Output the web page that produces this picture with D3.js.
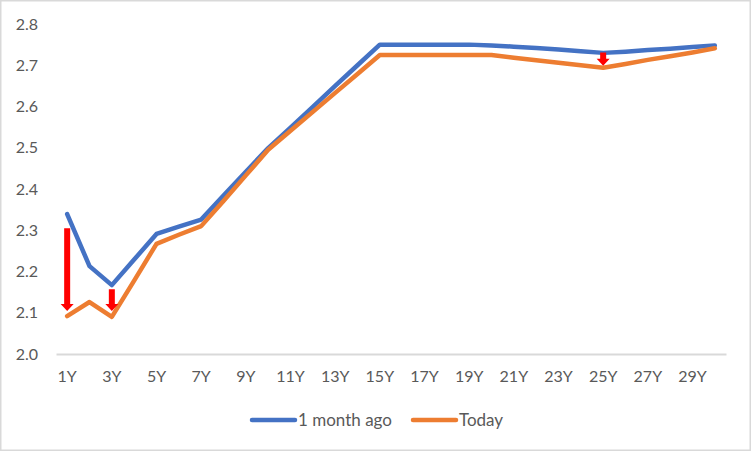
<!DOCTYPE html>
<html>
<head>
<meta charset="utf-8">
<script src="https://cdn.jsdelivr.net/npm/d3@7"></script>
<style>
  html, body { margin: 0; padding: 0; background: #fff; }
  svg { display: block; }
  text { font-family: Lato, "Open Sans", sans-serif; fill: #595959; }
</style>
</head>
<body>
<svg id="chart" width="752" height="452"></svg>
<script>
// ---- data ----
const categories = ["1Y","2Y","3Y","4Y","5Y","6Y","7Y","8Y","9Y","10Y",
  "11Y","12Y","13Y","14Y","15Y","16Y","17Y","18Y","19Y","20Y",
  "21Y","22Y","23Y","24Y","25Y","26Y","27Y","28Y","29Y","30Y"];
const monthAgo = [2.339, 2.213, 2.167, 2.229, 2.291, 2.309, 2.326, 2.384, 2.442, 2.499,
  2.549, 2.599, 2.650, 2.700, 2.750, 2.750, 2.750, 2.750, 2.750, 2.748,
  2.745, 2.742, 2.738, 2.734, 2.730, 2.733, 2.737, 2.740, 2.744, 2.748];
const today = [2.092, 2.126, 2.090, 2.178, 2.267, 2.289, 2.310, 2.371, 2.433, 2.495,
  2.541, 2.587, 2.633, 2.679, 2.725, 2.725, 2.725, 2.725, 2.725, 2.725,
  2.718, 2.712, 2.706, 2.700, 2.694, 2.703, 2.713, 2.722, 2.731, 2.741];
const seriesNames = ["1 month ago", "Today"];
const yTicks = [2.0, 2.1, 2.2, 2.3, 2.4, 2.5, 2.6, 2.7, 2.8];
// red arrows: category, start value, tip value
const arrowCats = ["1Y", "3Y", "25Y"];
const arrowFrom = [2.305, 2.157, 2.731];
const arrowTo = [2.104, 2.104, 2.699];

// ---- layout ----
const svg = d3.select("#chart");
const colors = ["#4472c4", "#ed7d31"];
const plotLeft = 56, plotRight = 726, plotTop = 24, plotBottom = 354;

svg.append("rect").attr("x", 0.75).attr("y", 0.75).attr("width", 749.5).attr("height", 449.5)
  .attr("fill", "#fff").attr("stroke", "#d9d9d9").attr("stroke-width", 1.5);

const x = d3.scaleBand().domain(categories).range([plotLeft, plotRight]);
const y = d3.scaleLinear().domain([2.0, 2.8]).range([plotBottom, plotTop]);
const cx = c => x(c) + x.bandwidth() / 2;

// y axis labels
const yAxis = d3.axisLeft(y).tickValues(yTicks).tickFormat(d3.format(".1f")).tickSize(0).tickPadding(0);
const gy = svg.append("g").attr("transform", "translate(38,0)").call(yAxis);
gy.select(".domain").remove();
gy.selectAll("text").style("font-size", "16px").attr("fill", "#595959")
  .style("font-family", "Lato, 'Open Sans', sans-serif");

// x axis
const xAxis = d3.axisBottom(x).tickSize(0).tickPadding(17)
  .tickFormat((d, i) => i % 2 === 0 ? d : "");
const gx = svg.append("g").attr("transform", `translate(0,${plotBottom})`).call(xAxis);
gx.select(".domain").attr("stroke", "#d9d9d9").attr("stroke-width", 2);
gx.selectAll("text").style("font-size", "16px").attr("fill", "#595959")
  .style("font-family", "Lato, 'Open Sans', sans-serif");

// lines
const line = d3.line().x((d, i) => cx(categories[i])).y(d => y(d));
[monthAgo, today].forEach((s, k) => {
  svg.append("path").datum(s).attr("d", line).attr("fill", "none")
    .attr("stroke", colors[k]).attr("stroke-width", 4.5)
    .attr("stroke-linejoin", "round").attr("stroke-linecap", "round");
});

// red arrows
arrowCats.forEach((c, i) => {
  const xc = cx(c), y0 = y(arrowFrom[i]), y1 = y(arrowTo[i]);
  const headH = 7, shaftW = 6, headW = 13;
  const p = d3.path();
  p.moveTo(xc - shaftW / 2, y0);
  p.lineTo(xc + shaftW / 2, y0);
  p.lineTo(xc + shaftW / 2, y1 - headH);
  p.lineTo(xc + headW / 2, y1 - headH);
  p.lineTo(xc, y1);
  p.lineTo(xc - headW / 2, y1 - headH);
  p.lineTo(xc - shaftW / 2, y1 - headH);
  p.closePath();
  svg.append("path").attr("d", p.toString()).attr("fill", "#ff0000");
});

// legend
const legendX = [252, 413];
seriesNames.forEach((n, k) => {
  const g = svg.append("g").attr("transform", `translate(${legendX[k]},420)`);
  g.append("line").attr("x1", 0).attr("x2", 43).attr("y1", 0).attr("y2", 0)
    .attr("stroke", colors[k]).attr("stroke-width", 4.5).attr("stroke-linecap", "round");
  g.append("text").attr("x", 46).attr("y", 0).attr("dy", "0.35em")
    .style("font-size", "17px").text(n);
});
</script>
</body>
</html>
